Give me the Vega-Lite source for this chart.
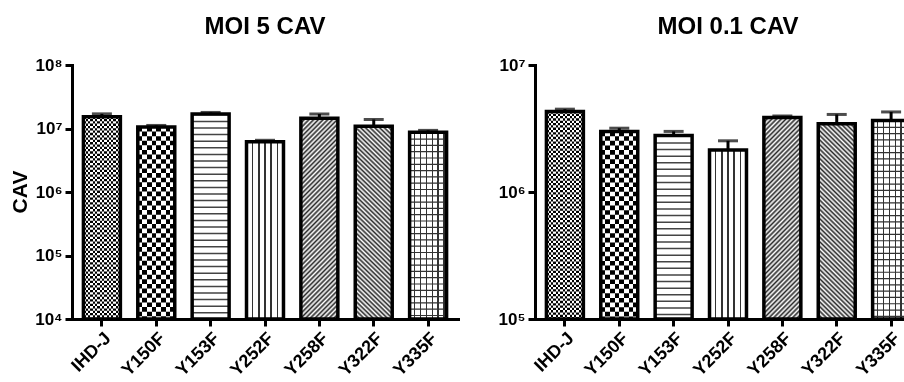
{
"$schema": "https://vega.github.io/schema/vega-lite/v6.json",
"background": "white",
"padding": {"left": 9, "top": 15, "right": 0, "bottom": 0},
"data": {"values": [
{"panel":"MOI 5 CAV","ylab":"CAV","g":"IHD-J","v":15350000,"err":17000000,"base":10000},
{"panel":"MOI 5 CAV","ylab":"CAV","g":"Y150F","v":10600000,"err":11170000,"base":10000},
{"panel":"MOI 5 CAV","ylab":"CAV","g":"Y153F","v":16900000,"err":17900000,"base":10000},
{"panel":"MOI 5 CAV","ylab":"CAV","g":"Y252F","v":6180000,"err":6520000,"base":10000},
{"panel":"MOI 5 CAV","ylab":"CAV","g":"Y258F","v":14500000,"err":16900000,"base":10000},
{"panel":"MOI 5 CAV","ylab":"CAV","g":"Y322F","v":10870000,"err":13870000,"base":10000},
{"panel":"MOI 5 CAV","ylab":"CAV","g":"Y335F","v":8750000,"err":9340000,"base":10000},
{"panel":"MOI 0.1 CAV","ylab":"CAV","g":"IHD-J","v":4310000,"err":4490000,"base":100000},
{"panel":"MOI 0.1 CAV","ylab":"CAV","g":"Y150F","v":2990000,"err":3180000,"base":100000},
{"panel":"MOI 0.1 CAV","ylab":"CAV","g":"Y153F","v":2780000,"err":3000000,"base":100000},
{"panel":"MOI 0.1 CAV","ylab":"CAV","g":"Y252F","v":2140000,"err":2530000,"base":100000},
{"panel":"MOI 0.1 CAV","ylab":"CAV","g":"Y258F","v":3860000,"err":3970000,"base":100000},
{"panel":"MOI 0.1 CAV","ylab":"CAV","g":"Y322F","v":3440000,"err":4080000,"base":100000},
{"panel":"MOI 0.1 CAV","ylab":"CAV","g":"Y335F","v":3660000,"err":4270000,"base":100000}
]},
"facet": {
  "column": {"field": "panel", "type": "nominal", "sort": ["MOI 5 CAV", "MOI 0.1 CAV"], "header": {"title": null, "labelFontSize": 24, "labelFontWeight": "bold", "labelColor": "black", "labelPadding": 17}},
  "row": {"field": "ylab", "type": "nominal", "header": {"title": null, "labelAngle": -90, "labelOrient": "left", "labelFontSize": 21, "labelFontWeight": "bold", "labelColor": "black", "labelPadding": -8}}
},
"spacing": {"column": 40, "row": 0},
"resolve": {"scale": {"y": "independent", "x": "independent"}},
"spec": {
  "width": 386,
  "height": 254,
  "encoding": {
    "x": {"field": "g", "type": "nominal", "scale": {"paddingInner": 0.32, "paddingOuter": 0.21}, "axis": {"title": null, "labelAngle": -45, "labelFontSize": 18}},
    "y": {"field": "v", "type": "quantitative", "scale": {"type": "log"}, "axis": {"title": null, "values": [10000, 100000, 1000000, 10000000, 100000000], "labelExpr": "'10' + ['⁴','⁵','⁶','⁷','⁸'][round(log(datum.value)/LN10)-4]"}}
  },
  "layer": [
    {"transform": [{"filter": "datum.g == 'IHD-J'"}], "mark": {"type": "rule", "clip": true, "strokeWidth": 37, "strokeDash": [2.31, 2.31], "strokeCap": "butt", "color": "#000"}, "encoding": {"y2": {"field": "base"}}},
    {"transform": [{"filter": "datum.g == 'IHD-J'"}], "mark": {"type": "bar", "blend": "difference", "fill": {"gradient": "linear", "x1": 0, "y1": 0, "x2": 1, "y2": 0, "stops": [
      {"offset":0,"color":"#000"},{"offset":0.0625,"color":"#000"},{"offset":0.0625,"color":"#fff"},{"offset":0.125,"color":"#fff"},
      {"offset":0.125,"color":"#000"},{"offset":0.1875,"color":"#000"},{"offset":0.1875,"color":"#fff"},{"offset":0.25,"color":"#fff"},
      {"offset":0.25,"color":"#000"},{"offset":0.3125,"color":"#000"},{"offset":0.3125,"color":"#fff"},{"offset":0.375,"color":"#fff"},
      {"offset":0.375,"color":"#000"},{"offset":0.4375,"color":"#000"},{"offset":0.4375,"color":"#fff"},{"offset":0.5,"color":"#fff"},
      {"offset":0.5,"color":"#000"},{"offset":0.5625,"color":"#000"},{"offset":0.5625,"color":"#fff"},{"offset":0.625,"color":"#fff"},
      {"offset":0.625,"color":"#000"},{"offset":0.6875,"color":"#000"},{"offset":0.6875,"color":"#fff"},{"offset":0.75,"color":"#fff"},
      {"offset":0.75,"color":"#000"},{"offset":0.8125,"color":"#000"},{"offset":0.8125,"color":"#fff"},{"offset":0.875,"color":"#fff"},
      {"offset":0.875,"color":"#000"},{"offset":0.9375,"color":"#000"},{"offset":0.9375,"color":"#fff"},{"offset":1,"color":"#fff"}]}}, "encoding": {"y2": {"field": "base"}}},
    {"transform": [{"filter": "datum.g == 'Y150F'"}], "mark": {"type": "rule", "clip": true, "strokeWidth": 37, "strokeDash": [4.62, 4.62], "strokeCap": "butt", "color": "#000"}, "encoding": {"y2": {"field": "base"}}},
    {"transform": [{"filter": "datum.g == 'Y150F'"}], "mark": {"type": "bar", "blend": "difference", "fill": {"gradient": "linear", "x1": 0, "y1": 0, "x2": 1, "y2": 0, "stops": [
      {"offset":0,"color":"#000"},{"offset":0.125,"color":"#000"},{"offset":0.125,"color":"#fff"},{"offset":0.25,"color":"#fff"},
      {"offset":0.25,"color":"#000"},{"offset":0.375,"color":"#000"},{"offset":0.375,"color":"#fff"},{"offset":0.5,"color":"#fff"},
      {"offset":0.5,"color":"#000"},{"offset":0.625,"color":"#000"},{"offset":0.625,"color":"#fff"},{"offset":0.75,"color":"#fff"},
      {"offset":0.75,"color":"#000"},{"offset":0.875,"color":"#000"},{"offset":0.875,"color":"#fff"},{"offset":1,"color":"#fff"}]}}, "encoding": {"y2": {"field": "base"}}},
    {"transform": [{"filter": "datum.g == 'Y153F'"}], "mark": {"type": "rule", "clip": true, "strokeWidth": 37, "strokeDash": [1.5, 5.1], "strokeCap": "butt", "color": "#444"}, "encoding": {"y2": {"field": "base"}}},
    {"transform": [{"filter": "datum.g == 'Y252F'"}], "mark": {"type": "bar", "fill": {"gradient": "linear", "x1": 0, "y1": 0, "x2": 1, "y2": 0, "stops": [
      {"offset":0,"color":"#fff"},{"offset":0.152,"color":"#fff"},{"offset":0.152,"color":"#333"},{"offset":0.188,"color":"#333"},{"offset":0.188,"color":"#fff"},
      {"offset":0.317,"color":"#fff"},{"offset":0.317,"color":"#333"},{"offset":0.353,"color":"#333"},{"offset":0.353,"color":"#fff"},
      {"offset":0.482,"color":"#fff"},{"offset":0.482,"color":"#333"},{"offset":0.518,"color":"#333"},{"offset":0.518,"color":"#fff"},
      {"offset":0.647,"color":"#fff"},{"offset":0.647,"color":"#333"},{"offset":0.683,"color":"#333"},{"offset":0.683,"color":"#fff"},
      {"offset":0.812,"color":"#fff"},{"offset":0.812,"color":"#333"},{"offset":0.848,"color":"#333"},{"offset":0.848,"color":"#fff"},{"offset":1,"color":"#fff"}]}}, "encoding": {"y2": {"field": "base"}}},
    {"transform": [{"filter": "datum.g == 'Y258F'"}], "mark": {"type": "bar", "fill": {"gradient": "linear", "x1": 0, "y1": 0, "x2": 0.213, "y2": 1.146, "stops": [
      {"offset":0,"color":"#2a2a2a"},{"offset":0.01,"color":"#fff"},{"offset":0.02,"color":"#2a2a2a"},{"offset":0.03,"color":"#fff"},{"offset":0.04,"color":"#2a2a2a"},{"offset":0.05,"color":"#fff"},{"offset":0.06,"color":"#2a2a2a"},{"offset":0.07,"color":"#fff"},{"offset":0.08,"color":"#2a2a2a"},{"offset":0.09,"color":"#fff"},
      {"offset":0.1,"color":"#2a2a2a"},{"offset":0.11,"color":"#fff"},{"offset":0.12,"color":"#2a2a2a"},{"offset":0.13,"color":"#fff"},{"offset":0.14,"color":"#2a2a2a"},{"offset":0.15,"color":"#fff"},{"offset":0.16,"color":"#2a2a2a"},{"offset":0.17,"color":"#fff"},{"offset":0.18,"color":"#2a2a2a"},{"offset":0.19,"color":"#fff"},
      {"offset":0.2,"color":"#2a2a2a"},{"offset":0.21,"color":"#fff"},{"offset":0.22,"color":"#2a2a2a"},{"offset":0.23,"color":"#fff"},{"offset":0.24,"color":"#2a2a2a"},{"offset":0.25,"color":"#fff"},{"offset":0.26,"color":"#2a2a2a"},{"offset":0.27,"color":"#fff"},{"offset":0.28,"color":"#2a2a2a"},{"offset":0.29,"color":"#fff"},
      {"offset":0.3,"color":"#2a2a2a"},{"offset":0.31,"color":"#fff"},{"offset":0.32,"color":"#2a2a2a"},{"offset":0.33,"color":"#fff"},{"offset":0.34,"color":"#2a2a2a"},{"offset":0.35,"color":"#fff"},{"offset":0.36,"color":"#2a2a2a"},{"offset":0.37,"color":"#fff"},{"offset":0.38,"color":"#2a2a2a"},{"offset":0.39,"color":"#fff"},
      {"offset":0.4,"color":"#2a2a2a"},{"offset":0.41,"color":"#fff"},{"offset":0.42,"color":"#2a2a2a"},{"offset":0.43,"color":"#fff"},{"offset":0.44,"color":"#2a2a2a"},{"offset":0.45,"color":"#fff"},{"offset":0.46,"color":"#2a2a2a"},{"offset":0.47,"color":"#fff"},{"offset":0.48,"color":"#2a2a2a"},{"offset":0.49,"color":"#fff"},
      {"offset":0.5,"color":"#2a2a2a"},{"offset":0.51,"color":"#fff"},{"offset":0.52,"color":"#2a2a2a"},{"offset":0.53,"color":"#fff"},{"offset":0.54,"color":"#2a2a2a"},{"offset":0.55,"color":"#fff"},{"offset":0.56,"color":"#2a2a2a"},{"offset":0.57,"color":"#fff"},{"offset":0.58,"color":"#2a2a2a"},{"offset":0.59,"color":"#fff"},
      {"offset":0.6,"color":"#2a2a2a"},{"offset":0.61,"color":"#fff"},{"offset":0.62,"color":"#2a2a2a"},{"offset":0.63,"color":"#fff"},{"offset":0.64,"color":"#2a2a2a"},{"offset":0.65,"color":"#fff"},{"offset":0.66,"color":"#2a2a2a"},{"offset":0.67,"color":"#fff"},{"offset":0.68,"color":"#2a2a2a"},{"offset":0.69,"color":"#fff"},
      {"offset":0.7,"color":"#2a2a2a"},{"offset":0.71,"color":"#fff"},{"offset":0.72,"color":"#2a2a2a"},{"offset":0.73,"color":"#fff"},{"offset":0.74,"color":"#2a2a2a"},{"offset":0.75,"color":"#fff"},{"offset":0.76,"color":"#2a2a2a"},{"offset":0.77,"color":"#fff"},{"offset":0.78,"color":"#2a2a2a"},{"offset":0.79,"color":"#fff"},
      {"offset":0.8,"color":"#2a2a2a"},{"offset":0.81,"color":"#fff"},{"offset":0.82,"color":"#2a2a2a"},{"offset":0.83,"color":"#fff"},{"offset":0.84,"color":"#2a2a2a"},{"offset":0.85,"color":"#fff"},{"offset":0.86,"color":"#2a2a2a"},{"offset":0.87,"color":"#fff"},{"offset":0.88,"color":"#2a2a2a"},{"offset":0.89,"color":"#fff"},
      {"offset":0.9,"color":"#2a2a2a"},{"offset":0.91,"color":"#fff"},{"offset":0.92,"color":"#2a2a2a"},{"offset":0.93,"color":"#fff"},{"offset":0.94,"color":"#2a2a2a"},{"offset":0.95,"color":"#fff"},{"offset":0.96,"color":"#2a2a2a"},{"offset":0.97,"color":"#fff"},{"offset":0.98,"color":"#2a2a2a"},{"offset":0.99,"color":"#fff"},{"offset":1,"color":"#2a2a2a"}]}}, "encoding": {"y2": {"field": "base"}}},
    {"transform": [{"filter": "datum.g == 'Y322F'"}], "mark": {"type": "bar", "fill": {"gradient": "linear", "x1": 0, "y1": 1, "x2": 0.213, "y2": -0.146, "stops": [
      {"offset":0,"color":"#2a2a2a"},{"offset":0.01,"color":"#fff"},{"offset":0.02,"color":"#2a2a2a"},{"offset":0.03,"color":"#fff"},{"offset":0.04,"color":"#2a2a2a"},{"offset":0.05,"color":"#fff"},{"offset":0.06,"color":"#2a2a2a"},{"offset":0.07,"color":"#fff"},{"offset":0.08,"color":"#2a2a2a"},{"offset":0.09,"color":"#fff"},
      {"offset":0.1,"color":"#2a2a2a"},{"offset":0.11,"color":"#fff"},{"offset":0.12,"color":"#2a2a2a"},{"offset":0.13,"color":"#fff"},{"offset":0.14,"color":"#2a2a2a"},{"offset":0.15,"color":"#fff"},{"offset":0.16,"color":"#2a2a2a"},{"offset":0.17,"color":"#fff"},{"offset":0.18,"color":"#2a2a2a"},{"offset":0.19,"color":"#fff"},
      {"offset":0.2,"color":"#2a2a2a"},{"offset":0.21,"color":"#fff"},{"offset":0.22,"color":"#2a2a2a"},{"offset":0.23,"color":"#fff"},{"offset":0.24,"color":"#2a2a2a"},{"offset":0.25,"color":"#fff"},{"offset":0.26,"color":"#2a2a2a"},{"offset":0.27,"color":"#fff"},{"offset":0.28,"color":"#2a2a2a"},{"offset":0.29,"color":"#fff"},
      {"offset":0.3,"color":"#2a2a2a"},{"offset":0.31,"color":"#fff"},{"offset":0.32,"color":"#2a2a2a"},{"offset":0.33,"color":"#fff"},{"offset":0.34,"color":"#2a2a2a"},{"offset":0.35,"color":"#fff"},{"offset":0.36,"color":"#2a2a2a"},{"offset":0.37,"color":"#fff"},{"offset":0.38,"color":"#2a2a2a"},{"offset":0.39,"color":"#fff"},
      {"offset":0.4,"color":"#2a2a2a"},{"offset":0.41,"color":"#fff"},{"offset":0.42,"color":"#2a2a2a"},{"offset":0.43,"color":"#fff"},{"offset":0.44,"color":"#2a2a2a"},{"offset":0.45,"color":"#fff"},{"offset":0.46,"color":"#2a2a2a"},{"offset":0.47,"color":"#fff"},{"offset":0.48,"color":"#2a2a2a"},{"offset":0.49,"color":"#fff"},
      {"offset":0.5,"color":"#2a2a2a"},{"offset":0.51,"color":"#fff"},{"offset":0.52,"color":"#2a2a2a"},{"offset":0.53,"color":"#fff"},{"offset":0.54,"color":"#2a2a2a"},{"offset":0.55,"color":"#fff"},{"offset":0.56,"color":"#2a2a2a"},{"offset":0.57,"color":"#fff"},{"offset":0.58,"color":"#2a2a2a"},{"offset":0.59,"color":"#fff"},
      {"offset":0.6,"color":"#2a2a2a"},{"offset":0.61,"color":"#fff"},{"offset":0.62,"color":"#2a2a2a"},{"offset":0.63,"color":"#fff"},{"offset":0.64,"color":"#2a2a2a"},{"offset":0.65,"color":"#fff"},{"offset":0.66,"color":"#2a2a2a"},{"offset":0.67,"color":"#fff"},{"offset":0.68,"color":"#2a2a2a"},{"offset":0.69,"color":"#fff"},
      {"offset":0.7,"color":"#2a2a2a"},{"offset":0.71,"color":"#fff"},{"offset":0.72,"color":"#2a2a2a"},{"offset":0.73,"color":"#fff"},{"offset":0.74,"color":"#2a2a2a"},{"offset":0.75,"color":"#fff"},{"offset":0.76,"color":"#2a2a2a"},{"offset":0.77,"color":"#fff"},{"offset":0.78,"color":"#2a2a2a"},{"offset":0.79,"color":"#fff"},
      {"offset":0.8,"color":"#2a2a2a"},{"offset":0.81,"color":"#fff"},{"offset":0.82,"color":"#2a2a2a"},{"offset":0.83,"color":"#fff"},{"offset":0.84,"color":"#2a2a2a"},{"offset":0.85,"color":"#fff"},{"offset":0.86,"color":"#2a2a2a"},{"offset":0.87,"color":"#fff"},{"offset":0.88,"color":"#2a2a2a"},{"offset":0.89,"color":"#fff"},
      {"offset":0.9,"color":"#2a2a2a"},{"offset":0.91,"color":"#fff"},{"offset":0.92,"color":"#2a2a2a"},{"offset":0.93,"color":"#fff"},{"offset":0.94,"color":"#2a2a2a"},{"offset":0.95,"color":"#fff"},{"offset":0.96,"color":"#2a2a2a"},{"offset":0.97,"color":"#fff"},{"offset":0.98,"color":"#2a2a2a"},{"offset":0.99,"color":"#fff"},{"offset":1,"color":"#2a2a2a"}]}}, "encoding": {"y2": {"field": "base"}}},
    {"transform": [{"filter": "datum.g == 'Y335F'"}], "mark": {"type": "bar", "fill": {"gradient": "linear", "x1": 0, "y1": 0, "x2": 1, "y2": 0, "stops": [
      {"offset":0,"color":"#fff"},{"offset":0.114,"color":"#fff"},{"offset":0.114,"color":"#333"},{"offset":0.146,"color":"#333"},{"offset":0.146,"color":"#fff"},
      {"offset":0.274,"color":"#fff"},{"offset":0.274,"color":"#333"},{"offset":0.306,"color":"#333"},{"offset":0.306,"color":"#fff"},
      {"offset":0.434,"color":"#fff"},{"offset":0.434,"color":"#333"},{"offset":0.466,"color":"#333"},{"offset":0.466,"color":"#fff"},
      {"offset":0.594,"color":"#fff"},{"offset":0.594,"color":"#333"},{"offset":0.626,"color":"#333"},{"offset":0.626,"color":"#fff"},
      {"offset":0.754,"color":"#fff"},{"offset":0.754,"color":"#333"},{"offset":0.786,"color":"#333"},{"offset":0.786,"color":"#fff"},
      {"offset":0.914,"color":"#fff"},{"offset":0.914,"color":"#333"},{"offset":0.946,"color":"#333"},{"offset":0.946,"color":"#fff"},{"offset":1,"color":"#fff"}]}}, "encoding": {"y2": {"field": "base"}}},
    {"transform": [{"filter": "datum.g == 'Y335F'"}], "mark": {"type": "rule", "clip": true, "strokeWidth": 37, "strokeDash": [1.2, 5.1], "strokeCap": "butt", "color": "#333"}, "encoding": {"y2": {"field": "base"}}},
    {"mark": {"type": "rule", "strokeWidth": 3, "color": "#000"}, "encoding": {"y2": {"field": "err"}}},
    {"mark": {"type": "tick", "size": 20, "thickness": 3, "color": "#000"}, "encoding": {"y": {"field": "err", "type": "quantitative", "axis": {"title": null}}}},
    {"mark": {"type": "bar", "fill": "white", "fillOpacity": 0, "stroke": "#000", "strokeWidth": 3.5}, "encoding": {"y2": {"field": "base"}}}
  ]
},
"config": {
  "font": "Liberation Sans",
  "view": {"stroke": null},
  "axis": {"domainColor": "#000", "domainWidth": 3, "domainCap": "square", "tickColor": "#000", "tickWidth": 3, "tickSize": 7, "labelColor": "#000", "labelFontWeight": "bold", "labelFontSize": 17, "grid": false, "labelPadding": 3}
}
}
